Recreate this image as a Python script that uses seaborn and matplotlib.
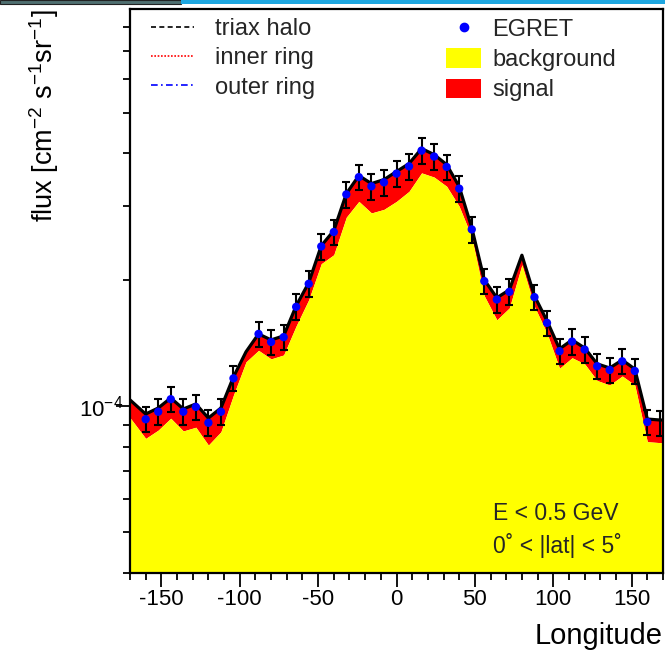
### EGRET longitude profile with background + signal bands ###

import matplotlib

matplotlib.use("Agg")
import matplotlib.pyplot as plt
import pandas as pd
import seaborn as sns
from matplotlib.lines import Line2D
from matplotlib.patches import Patch, Rectangle
from matplotlib.ticker import LogLocator, MultipleLocator, NullFormatter

UNIT = 1e-4  # all flux lists below are in units of 1e-4 cm^-2 s^-1 sr^-1

# EGRET data points
egret_lon = [-160, -152, -144, -136, -128, -120, -112, -104, -88, -80, -72, -64,
             -56, -48, -40, -32, -24, -16, -8, 0, 8, 16, 24, 32, 40, 48, 56, 64,
             72, 88, 96, 104, 112, 120, 128, 136, 144, 152, 160, 168]
egret_flux = [0.930, 0.969, 1.038, 0.969, 0.995, 0.912, 0.969, 1.164, 1.485,
              1.421, 1.459, 1.723, 1.955, 2.400, 2.598, 3.193, 3.511, 3.338,
              3.412, 3.579, 3.725, 4.061, 3.930, 3.713, 3.296, 2.635, 1.984,
              1.794, 1.871, 1.817, 1.578, 1.351, 1.424, 1.363, 1.244, 1.219,
              1.278, 1.212, 0.916, 0.911]
egret_err = [0.065, 0.068, 0.073, 0.068, 0.070, 0.064, 0.068, 0.081, 0.104,
             0.099, 0.102, 0.121, 0.137, 0.168, 0.182, 0.224, 0.246, 0.234,
             0.239, 0.251, 0.261, 0.284, 0.275, 0.260, 0.231, 0.184, 0.139,
             0.126, 0.131, 0.127, 0.110, 0.095, 0.100, 0.095, 0.087, 0.085,
             0.089, 0.085, 0.064, 0.064]

# model curves
model_lon = [-170, -160, -152, -144, -136, -128, -120, -112, -104, -96, -88, -80,
             -72, -64, -56, -48, -40, -32, -24, -16, -8, 0, 8, 16, 24, 32, 40,
             48, 56, 64, 72, 80, 88, 96, 104, 112, 120, 128, 136, 144, 152, 160,
             168, 170]
total_flux = [1.034, 0.957, 0.989, 1.045, 0.984, 1.011, 0.936, 0.989, 1.173,
              1.346, 1.485, 1.437, 1.469, 1.733, 1.966, 2.409, 2.617, 3.206,
              3.540, 3.388, 3.463, 3.619, 3.781, 4.106, 3.972, 3.760, 3.332,
              2.659, 1.998, 1.811, 1.891, 2.287, 1.830, 1.595, 1.368, 1.437,
              1.375, 1.260, 1.232, 1.287, 1.225, 0.931, 0.926, 0.926]
background_flux = [0.938, 0.837, 0.876, 0.935, 0.872, 0.890, 0.807, 0.868,
                   1.062, 1.274, 1.357, 1.295, 1.323, 1.552, 1.791, 2.183,
                   2.293, 2.818, 3.073, 2.884, 2.941, 3.073, 3.247, 3.593,
                   3.511, 3.338, 2.990, 2.524, 1.830, 1.604, 1.713, 2.171,
                   1.726, 1.491, 1.230, 1.303, 1.260, 1.150, 1.122, 1.179,
                   1.122, 0.822, 0.818, 0.818]

Y_MIN = 0.4 * UNIT
Y_MAX = 8.83 * UNIT

sns.set_theme(style="ticks")
plt.rcParams["font.family"] = ["Liberation Sans", "DejaVu Sans"]
plt.rcParams["mathtext.fontset"] = "custom"
plt.rcParams["mathtext.rm"] = "Liberation Sans"
plt.rcParams["mathtext.it"] = "Liberation Sans:italic"
plt.rcParams["mathtext.default"] = "regular"
plt.rcParams["axes.unicode_minus"] = False

egret = pd.DataFrame({"lon": egret_lon,
                      "flux": [v * UNIT for v in egret_flux],
                      "err": [v * UNIT for v in egret_err]})
model = pd.DataFrame({"lon": model_lon,
                      "total": [v * UNIT for v in total_flux],
                      "background": [v * UNIT for v in background_flux]})

W, H = 665, 652
fig = plt.figure(figsize=(W / 100, H / 100), dpi=100)
ax = fig.add_axes([130 / W, 1 - 573 / H, 533 / W, 564 / H])
ax.set_yscale("log")

ax.fill_between(model["lon"], model["background"], model["total"],
                color="red", lw=0, zorder=1)
ax.fill_between(model["lon"], Y_MIN, model["background"],
                color="yellow", lw=0, zorder=2)
sns.lineplot(data=model, x="lon", y="total", color="black", lw=2.3,
             ax=ax, zorder=3, legend=False)
ax.errorbar(egret["lon"], egret["flux"], yerr=egret["err"], fmt="none",
            ecolor="black", elinewidth=1.5, capsize=3.2, capthick=1.5, zorder=4)
# the last marker sits under the frame in the original plot
sns.scatterplot(data=egret.iloc[:-1], x="lon", y="flux", color="blue", s=36,
                edgecolor="none", ax=ax, zorder=5, legend=False)

ax.set_xlim(-170, 170)
ax.set_ylim(Y_MIN, Y_MAX)
ax.xaxis.set_major_locator(MultipleLocator(50))
ax.xaxis.set_minor_locator(MultipleLocator(10))
ax.yaxis.set_major_locator(LogLocator(base=10))
ax.yaxis.set_minor_locator(LogLocator(base=10, subs=range(2, 10)))
ax.yaxis.set_minor_formatter(NullFormatter())

ax.tick_params(axis="both", which="major", direction="out", length=10,
               width=1.3, color="black", labelsize=16, labelcolor="black")
ax.tick_params(axis="both", which="minor", direction="out", length=5,
               width=1.3, color="black")
ax.tick_params(axis="x", which="major", pad=1.5)
ax.tick_params(axis="y", which="major", pad=-5)
for side in ax.spines:
    ax.spines[side].set_color("black")
    ax.spines[side].set_linewidth(1.6)

ax.set_xlabel("Longitude", loc="right", fontsize=21, labelpad=9, color="black")
ax.set_ylabel(r"flux [cm$^{-2}$ s$^{-1}$sr$^{-1}$]", loc="top", fontsize=19.5,
              labelpad=13, color="black")

leg_lines = [Line2D([], [], color="black", ls=(0, (3, 2)), lw=1.2),
             Line2D([], [], color="red", ls=(0, (1, 1)), lw=1.2),
             Line2D([], [], color="blue", ls=(0, (4, 2, 1, 2)), lw=1.2)]
leg1 = ax.legend(leg_lines, ["triax halo", "inner ring", "outer ring"],
                 loc="upper left", bbox_to_anchor=(151 / W, 1 - 18 / H),
                 bbox_transform=fig.transFigure, frameon=False, fontsize=17,
                 handlelength=1.8, handletextpad=0.9, labelspacing=0.31,
                 borderpad=0, borderaxespad=0)
ax.add_artist(leg1)
leg_marks = [Line2D([], [], marker="o", color="blue", ls="none", ms=6),
             Patch(facecolor="yellow", edgecolor="none"),
             Patch(facecolor="red", edgecolor="none")]
ax.legend(leg_marks, ["EGRET", "background", "signal"],
          loc="upper left", bbox_to_anchor=(446 / W, 1 - 18 / H),
          bbox_transform=fig.transFigure, frameon=False, fontsize=17,
          handlelength=1.5, handleheight=0.9, handletextpad=0.45,
          labelspacing=0.31, borderpad=0, borderaxespad=0)

fig.text(493 / W, 1 - 514 / H, "E < 0.5 GeV", fontsize=16.5, va="center")
fig.text(493 / W, 1 - 545 / H, "0˚ < |lat| < 5˚", fontsize=16.5, va="center")

# strip of the window border at the top of the screenshot
fig.add_artist(Rectangle((0, 1 - 4 / H), 181 / W, 4 / H, transform=fig.transFigure,
                         facecolor="#4f6f70", edgecolor="#222222", lw=0.8))
fig.add_artist(Rectangle((181 / W, 1 - 4 / H), 484 / W, 4 / H,
                         transform=fig.transFigure, facecolor="#1ea7e1",
                         edgecolor="none"))

fig.savefig("out.png", dpi=100)
